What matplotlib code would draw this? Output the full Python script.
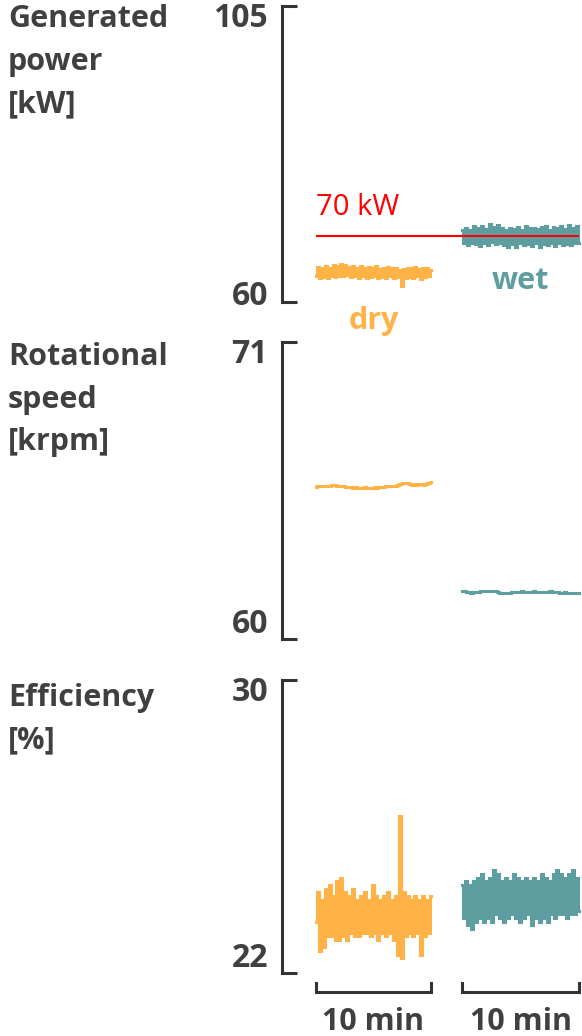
import numpy as np
import matplotlib
matplotlib.use("Agg")
import matplotlib.pyplot as plt
from matplotlib.transforms import blended_transform_factory

# colours
ORANGE = "#FFB347"
TEAL = "#5F9EA0"
GREY = "#404040"
AXC = "#333333"

plt.rcParams['font.family'] = ['Open Sans', 'DejaVu Sans']

# data
dry_power = [64.0, 65.3, 63.6, 65.1, 63.8, 65.5, 63.7, 65.2, 63.9, 65.6, 63.8, 65.4, 64.0, 65.8, 63.9,
             65.6, 64.1, 65.3, 63.8, 65.5, 64.0, 65.2, 63.7, 65.4, 63.9, 65.1, 63.6, 65.3, 63.8, 65.2,
             63.9, 65.4, 63.7, 65.0, 63.8, 65.2, 63.6, 65.3, 63.9, 65.1, 63.7, 65.2, 63.8, 64.9, 62.5,
             65.0, 63.7, 65.2, 63.8, 65.1, 63.6, 65.3, 63.9, 65.0, 63.5, 65.2, 63.8, 65.1, 63.9, 64.8]
wet_power = [70.9, 68.9, 71.3, 68.6, 71.0, 69.0, 71.5, 68.8, 71.2, 68.5, 71.6, 69.0, 71.1, 68.7, 71.8,
             69.1, 71.4, 68.8, 71.7, 68.9, 71.2, 68.6, 71.0, 68.4, 71.3, 68.8, 71.1, 68.3, 71.4, 68.9,
             71.0, 68.7, 71.5, 68.8, 71.2, 68.5, 71.3, 68.9, 71.1, 68.3, 71.4, 68.8, 71.5, 68.6, 71.0,
             68.9, 71.4, 68.5, 71.2, 68.9, 71.6, 68.7, 71.1, 68.8, 71.7, 68.6, 71.3, 68.9, 71.5, 69.0]
dry_speed = [65.64, 65.66, 65.65, 65.67, 65.66, 65.68, 65.67, 65.69, 65.70, 65.68, 65.67, 65.66, 65.65,
             65.63, 65.64, 65.62, 65.61, 65.62, 65.60, 65.61, 65.60, 65.62, 65.60, 65.61, 65.60, 65.62,
             65.61, 65.63, 65.62, 65.64, 65.65, 65.66, 65.65, 65.67, 65.66, 65.70, 65.74, 65.77, 65.78,
             65.76, 65.73, 65.72, 65.73, 65.72, 65.74, 65.73, 65.72, 65.75, 65.78, 65.80]
wet_speed = [61.78, 61.76, 61.74, 61.73, 61.72, 61.74, 61.73, 61.75, 61.77, 61.78, 61.77, 61.78, 61.79,
             61.77, 61.76, 61.73, 61.72, 61.71, 61.72, 61.71, 61.72, 61.74, 61.73, 61.75, 61.74, 61.76,
             61.75, 61.74, 61.75, 61.74, 61.76, 61.75, 61.74, 61.75, 61.74, 61.73, 61.74, 61.76, 61.75,
             61.74, 61.73, 61.72, 61.71, 61.73, 61.72, 61.70, 61.71, 61.72, 61.71, 61.70]
dry_eff = [23.4, 24.2, 22.6, 24.0, 22.7, 24.3, 23.0, 24.4, 23.0, 24.1, 22.9, 24.5, 22.9, 24.6, 23.0,
           24.2, 22.9, 24.1, 23.1, 24.3, 23.0, 24.0, 23.0, 24.1, 23.1, 24.2, 23.1, 24.0, 23.0, 24.4,
           23.1, 24.1, 22.9, 24.0, 23.1, 24.1, 23.0, 24.2, 23.1, 24.0, 22.9, 24.1, 22.5, 26.3, 22.4,
           24.2, 23.0, 24.1, 23.1, 24.0, 23.0, 24.1, 23.1, 24.0, 22.5, 24.1, 23.0, 24.0, 23.1, 24.1]
wet_eff = [24.4, 23.5, 24.5, 23.3, 24.4, 23.2, 24.5, 23.4, 24.6, 23.5, 24.7, 23.4, 24.5, 23.5, 24.6,
           23.4, 24.8, 23.6, 24.7, 23.5, 24.5, 23.4, 24.6, 23.5, 24.5, 23.6, 24.7, 23.5, 24.6, 23.4,
           24.5, 23.5, 24.6, 23.6, 24.5, 23.3, 24.6, 23.5, 24.5, 23.4, 24.7, 23.5, 24.6, 23.4, 24.5,
           23.6, 24.7, 23.5, 24.8, 23.6, 24.7, 23.6, 24.6, 23.5, 24.7, 23.6, 24.8, 23.6, 24.6, 23.7]

# run windows in minutes (dry run, then wet run)
dry_span = (0.0, 10.0)
wet_span = (12.7, 22.9)

panel_labels = ["Generated\npower\n[kW]", "Rotational\nspeed\n[krpm]", "Efficiency\n[%]"]
panel_limits = [(60, 105), (60, 71), (22, 30)]
panel_px = [(6, 302), (342, 639), (680, 973)]  # top/bottom in pixels
label_top_px = [4, 342, 683]
low_label_offset = [-2, 4, 4]

W, H = 582, 1036
fig = plt.figure(figsize=(W / 100, H / 100), dpi=100)

x_left = 282
min_px = 11.5  # pixels per minute
x_zero = 316
xlim = ((x_left - x_zero) / min_px, (W - x_zero) / min_px)

series = [(dry_power, wet_power), (dry_speed, wet_speed), (dry_eff, wet_eff)]

axes = []
for i in range(3):
    top, bot = panel_px[i]
    ax = fig.add_axes([x_left / W, 1 - bot / H, (W - x_left) / W, (bot - top) / H])
    lo, hi = panel_limits[i]
    ax.set_ylim(lo, hi)
    ax.set_xlim(*xlim)
    for s in ['top', 'right', 'bottom']:
        ax.spines[s].set_visible(False)
    ax.spines['left'].set_linewidth(2.2)
    ax.spines['left'].set_color(AXC)
    ax.set_xticks([])
    ax.set_yticks([lo, hi])
    ax.set_yticklabels([])
    ax.tick_params(axis='y', direction='in', length=11, width=2.2, color=AXC)
    ax.patch.set_alpha(0)

    # tick labels
    ax.annotate(str(hi), xy=(0, hi), xycoords=('axes fraction', 'data'),
                xytext=(-10, 3), textcoords='offset points', ha='right', va='top',
                fontsize=23, fontweight='bold', color=GREY)
    ax.annotate(str(lo), xy=(0, lo), xycoords=('axes fraction', 'data'),
                xytext=(-10, low_label_offset[i]), textcoords='offset points', ha='right',
                va='baseline', fontsize=23, fontweight='bold', color=GREY)

    dry, wet = series[i]
    dry_t = np.linspace(dry_span[0], dry_span[1], len(dry))
    wet_t = np.linspace(wet_span[0], wet_span[1], len(wet))
    ax.plot(dry_t, dry, color=ORANGE, lw=2.2, drawstyle='steps-mid', solid_joinstyle='miter')
    ax.plot(wet_t, wet, color=TEAL, lw=2.2, drawstyle='steps-mid', solid_joinstyle='miter')

    fig.text(8 / W, 1 - label_top_px[i] / H, panel_labels[i], ha='left', va='top',
             fontsize=22, fontweight='bold', color=GREY, linespacing=1.55)
    axes.append(ax)

ax1, ax2, ax3 = axes

# 70 kW reference line
ax1.hlines(70, dry_span[0], wet_span[1], color='red', lw=1.5, zorder=5)
ax1.annotate("70 kW", xy=(dry_span[0], 70), xytext=(0, 10), textcoords='offset points',
             color='red', fontsize=21, ha='left', va='bottom')
ax1.annotate("dry", xy=(np.mean(dry_span), 60), xycoords='data', xytext=(0, -14),
             textcoords='offset points', ha='center', va='center', fontsize=22,
             fontweight='bold', color=ORANGE, annotation_clip=False)
ax1.text(np.mean(wet_span), 63.2, "wet", ha='center', va='center', fontsize=22,
         fontweight='bold', color=TEAL)

# time scale brackets
tr = blended_transform_factory(ax3.transData, fig.transFigure)
yb = 1 - 992 / H
yt = 1 - 983 / H
for span in (dry_span, wet_span):
    ax3.plot([span[0], span[0], span[1], span[1]], [yt, yb, yb, yt], transform=tr,
             color=AXC, lw=2.2, clip_on=False, solid_joinstyle='miter')
    ax3.text(np.mean(span), 1 - 1030 / H, "10 min", transform=tr, ha='center', va='baseline',
             fontsize=22, fontweight='bold', color=GREY)

fig.savefig("out.png", dpi=100)
